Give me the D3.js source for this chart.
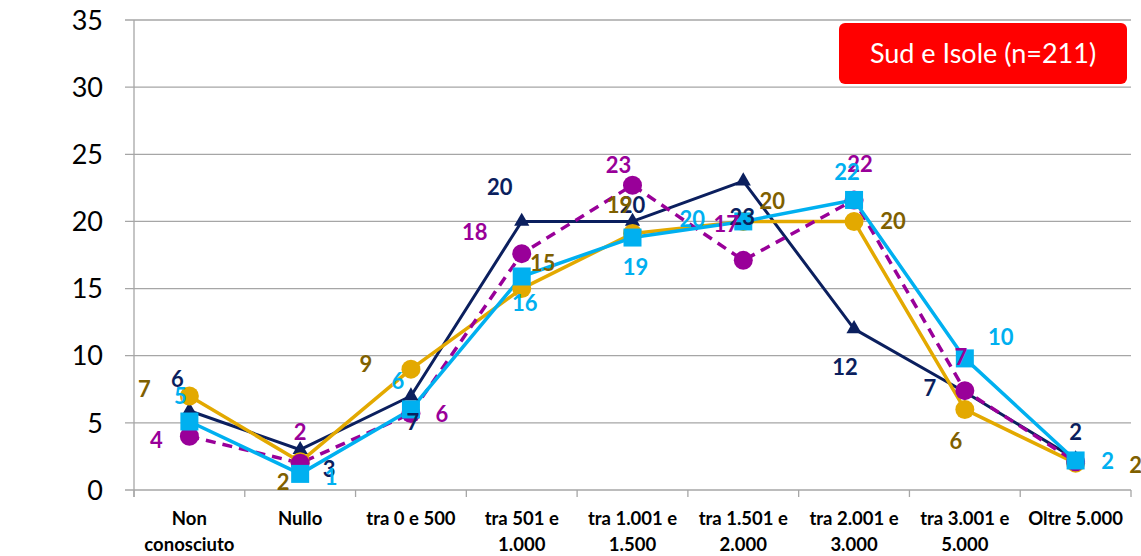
<!DOCTYPE html>
<html><head><meta charset="utf-8">
<script src="https://cdn.jsdelivr.net/npm/d3@7"></script>
<style>body{margin:0;background:#fff;} svg{display:block;}</style>
</head><body>
<svg id="chart" width="1141" height="556"></svg>
<script>
const categories = ["Non\nconosciuto","Nullo","tra 0 e 500","tra 501 e\n1.000","tra 1.001 e\n1.500","tra 1.501 e\n2.000","tra 2.001 e\n3.000","tra 3.001 e\n5.000","Oltre 5.000"];
const yTicks = [0,5,10,15,20,25,30,35];
const seriesNavy   = [5.9, 3.0, 7.0, 20.0, 20.0, 23.0, 12.0, 7.3, 2.3];
const seriesGold   = [7.0, 2.1, 9.0, 15.0, 19.1, 20.0, 20.0, 6.0, 2.0];
const seriesPurple = [4.0, 2.0, 5.7, 17.6, 22.7, 17.1, 21.6, 7.4, 2.1];
const seriesBlue   = [5.1, 1.2, 6.0, 15.9, 18.8, 20.0, 21.6, 9.8, 2.2];
const title = "Sud e Isole (n=211)";

// label placement (style/layout, not data)
const offNavy   = [[-12,-32],[29,19],[2,26],[-22,-34],[0,-16],[-1,36],[-9,38],[-35,-4],[0,-27]];
const offGold   = [[-45,-7],[-17,20],[-45,-5],[21,-25],[-13,-28],[29,-20],[39,0],[-9,32],[60,2]];
const offPurple = [[-33,4],[0,-31],[31,1],[-47,-22],[-14,-20],[-17,-36],[6,-36],[-4,-34],null];
const offBlue   = [[-9,-25],[31,3],[-13,-28],[3,27],[3,30],[-51,-2],[-7,-28],[36,-21],[32,1]];

const series = [
  {values: seriesNavy, color:"#0b1f5e", label:"#0b1f5e", marker:"triangle", dash:null, width:3, off:offNavy},
  {values: seriesGold, color:"#e3a900", label:"#7f6000", marker:"circle", dash:null, width:3.5, off:offGold},
  {values: seriesPurple, color:"#990099", label:"#990099", marker:"circle", dash:"10,7", width:3.5, off:offPurple},
  {values: seriesBlue, color:"#00b0f0", label:"#00b0f0", marker:"square", dash:null, width:3.5, off:offBlue}
];

const svg = d3.select("#chart");
const x = d3.scaleBand().domain(categories).range([134,1131]).padding(0);
const y = d3.scaleLinear().domain([0,35]).range([490,20]);
const cx = c => x(c) + x.bandwidth()/2;

// gridlines
svg.append("g").selectAll("line").data(yTicks).join("line")
  .attr("x1",125).attr("x2",1131).attr("y1",d=>y(d)).attr("y2",d=>y(d))
  .attr("stroke","#a6a6a6").attr("stroke-width",1.3);

// y axis line
svg.append("line").attr("x1",134).attr("x2",134).attr("y1",y(35)).attr("y2",y(0)+7)
  .attr("stroke","#a6a6a6").attr("stroke-width",1.3);
// y tick labels
svg.append("g").selectAll("text").data(yTicks).join("text")
  .attr("x",103).attr("y",d=>y(d)).attr("dy","0.36em").attr("text-anchor","end")
  .attr("font-family","Lato, 'Open Sans', sans-serif").attr("font-size",27).attr("fill","#000")
  .text(d=>d);

// x axis ticks
const bounds = categories.map(c=>x(c)).concat([1131]);
svg.append("g").selectAll("line").data(bounds).join("line")
  .attr("x1",d=>d).attr("x2",d=>d).attr("y1",490).attr("y2",497)
  .attr("stroke","#a6a6a6").attr("stroke-width",1.3);

// x labels
const xl = svg.append("g").selectAll("text").data(categories).join("text")
  .attr("text-anchor","middle").attr("font-family","Lato, 'Open Sans', sans-serif")
  .attr("font-weight","bold").attr("font-size",18.5).attr("fill","#000");
xl.each(function(c){
  const lines = c.split("\n");
  d3.select(this).selectAll("tspan").data(lines).join("tspan")
    .attr("x",cx(c)).attr("y",(d,i)=>525+i*26).text(d=>d);
});

// lines
const line = d3.line().x((d,i)=>cx(categories[i])).y(d=>y(d));
series.forEach(s=>{
  svg.append("path").datum(s.values).attr("d",line).attr("fill","none")
    .attr("stroke",s.color).attr("stroke-width",s.width)
    .attr("stroke-dasharray",s.dash).attr("stroke-linejoin","round");
});
// markers
series.forEach(s=>{
  const g = svg.append("g");
  s.values.forEach((v,i)=>{
    const px = cx(categories[i]), py = y(v);
    if(s.marker==="circle"){
      g.append("circle").attr("cx",px).attr("cy",py).attr("r",9.5).attr("fill",s.color);
    } else if(s.marker==="square"){
      g.append("rect").attr("x",px-9).attr("y",py-9).attr("width",18).attr("height",18).attr("fill",s.color);
    } else {
      g.append("path").attr("d",d3.symbol(d3.symbolTriangle,100)()).attr("transform",`translate(${px},${py})`).attr("fill",s.color);
    }
  });
});
// data labels
series.forEach(s=>{
  const g = svg.append("g");
  s.values.forEach((v,i)=>{
    const o = s.off[i]; if(!o) return;
    g.append("text").attr("x",cx(categories[i])+o[0]).attr("y",y(v)+o[1]).attr("dy","0.36em")
      .attr("text-anchor","middle").attr("font-family","Lato, 'Open Sans', sans-serif")
      .attr("font-weight","bold").attr("font-size",22).attr("fill",s.label)
      .text(d3.format(".0f")(v));
  });
});

// title box
svg.append("rect").attr("x",839).attr("y",23).attr("width",288).attr("height",61).attr("rx",6)
  .attr("fill","#ff0000");
svg.append("text").attr("x",983).attr("y",53.5).attr("dy","0.36em").attr("text-anchor","middle")
  .attr("font-family","Lato, 'Open Sans', sans-serif").attr("font-size",27).attr("fill","#fff")
  .text(title);
</script>
</body></html>
